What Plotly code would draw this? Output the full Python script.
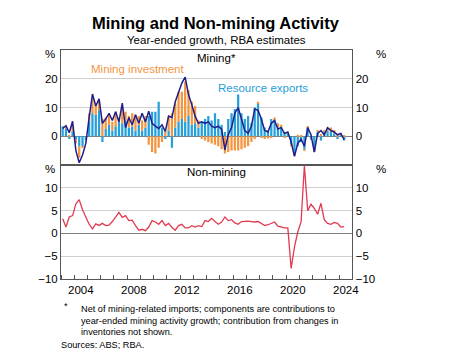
import pandas as pd
import plotly.graph_objects as go
from plotly.subplots import make_subplots

# ---------------- data (quarterly, year-ended growth, %) ----------------
quarters = pd.period_range("2003Q1", "2024Q2", freq="Q")

mining_total = [
    2.7, 3.7, 1.2, 5.2,      # 2003
    -5.0, -9.2, -6.5, -2.5,  # 2004
    6.5, 14.7, 10.5, 13.0,   # 2005
    4.5, 6.0, 8.0, 5.5,      # 2006
    8.5, 5.0, 11.5, 3.0,     # 2007
    6.5, 4.0, 7.5, 4.5,      # 2008
    8.0, 5.0, 8.7, 4.5,      # 2009
    3.5, 2.7, 4.0, 1.7,      # 2010
    7.0, 6.5, 12.0, 15.5,    # 2011
    18.5, 20.6, 14.5, 11.0,  # 2012
    7.0, 4.5, 5.0, 4.5,      # 2013
    5.0, 3.5, 3.0, 3.5,      # 2014
    2.5, -4.7, 0.5, 3.0,     # 2015
    8.0, 10.0, 5.5, 2.0,     # 2016
    1.0, 3.5, 9.5, 9.0,      # 2017
    6.0, 2.0, 1.5, 4.5,      # 2018
    5.5, 2.5, 3.0, 1.0,      # 2019
    1.5, -2.0, -7.0, -2.5,   # 2020
    -1.0, -3.5, 3.0, 0.5,    # 2021
    -5.5, 1.0, 2.0, 0.5,     # 2022
    3.0, 2.0, 1.5, 0.5,      # 2023
    1.0, -1.2,               # 2024
]

resource_exports = [
    3.5, 2.5, -1.0, 1.5,
    -1.0, -3.5, -3.5, -1.5,
    5.0, 8.0, 7.5, 9.0,
    -2.0, 2.5, 4.0, 2.0,
    3.5, 5.0, 4.5, 5.5,
    3.0, 3.5, 2.0, 4.0,
    2.0, 3.0, 7.0, 8.5,
    8.5, 12.0, 3.0, -1.0,
    2.0, -4.0, 3.0, 5.0,
    6.0, 5.0, 7.0, 4.0,
    4.5, 3.0, 5.0, 6.0,
    7.0, 5.5, 8.0, 6.0,
    4.0, 1.5, 6.0, 8.0,
    9.5, 14.5, 8.0, 6.0,
    7.0, 4.5, 10.0, 11.5,
    6.5, 3.0, 2.0, 6.0,
    5.5, 3.0, 3.5, 1.5,
    1.0, -3.0, -6.0, -3.5,
    -2.0, -4.5, 3.0, -1.0,
    -5.0, 1.5, -1.5, 1.5,
    2.0, 1.5, 1.0, -1.0,
    0.5, -1.5,
]

mining_investment = [
    0.0, 1.0, 0.5, 2.5,
    -1.5, -4.0, -0.5, 0.0,
    3.0, 5.0, 3.5, 3.5,
    6.0, 4.0, 3.5, 3.0,
    5.0, 1.5, 5.0, 3.0,
    4.0, 4.5, 5.5, 3.0,
    3.5, 4.0, -3.0, -5.5,
    -6.0, -4.0, -2.0, 2.0,
    5.0, 8.0, 8.5, 10.5,
    9.5, 14.0, 9.0, 8.0,
    6.0, 2.5, -1.0, -1.5,
    -2.0, -2.5, -3.0, -3.5,
    -4.5, -6.0, -5.5, -5.0,
    -5.0, -5.0, -4.5, -4.0,
    -3.5, -2.0, -1.0, 0.5,
    -0.5, -1.0, -0.8, -0.5,
    1.0, 1.5, 0.5, -0.5,
    0.3, -0.5, -0.8, 0.5,
    0.3, -0.5, 0.5, -0.3,
    -0.5, 0.5, 0.8, 0.5,
    1.0, 1.5, 1.2, 0.5,
    0.3, 0.2,
]

non_mining = [
    3.2, 1.4, 3.6, 3.9,
    6.5, 7.4, 5.2, 3.5,
    2.0, 1.0, 2.1, 1.75,
    2.2, 1.7, 1.8, 2.6,
    3.7, 4.6, 3.5, 3.9,
    2.8, 2.9, 1.7, 0.7,
    0.9, 0.6, 1.4, 2.8,
    2.5, 2.0, 2.8, 1.7,
    2.2, 1.3, 0.7, 1.7,
    2.0, 1.2, 1.2, 1.7,
    1.4, 1.7, 1.5, 2.8,
    2.6, 3.3, 2.6, 2.0,
    2.5, 3.6, 2.8, 3.0,
    2.3, 2.0, 2.6, 2.7,
    2.7, 2.6, 2.5, 2.6,
    2.2, 1.7, 1.9, 2.2,
    2.5, 1.6, 1.4, 1.2,
    1.2, -7.7, -3.0, 0.3,
    2.5, 14.9, 5.0, 6.4,
    5.5, 4.2, 6.6, 3.0,
    2.2, 2.0, 2.4, 2.2,
    1.4, 1.5,
]

year_labels = ["2004", "2008", "2012", "2016", "2020", "2024"]
top_ticks = [0, 10, 20]
bottom_ticks = [-10, -5, 0, 5, 10]

# ---------------- styling ----------------
ORANGE = "#F3953F"
BLUE = "#26A0DA"
NAVY = "#1E1E8C"
RED = "#E23A50"
GRID = "#CFCFCF"
FRAME = "#555555"
FONT = "Liberation Sans, Arial, sans-serif"

x = [q.year + (q.quarter - 0.5) / 4 for q in quarters]
year_pos = [int(y) + 0.5 for y in year_labels]

fig = make_subplots(
    rows=2, cols=1, shared_xaxes=True, vertical_spacing=0,
    row_heights=[115, 114],
    specs=[[{"secondary_y": True}], [{"secondary_y": True}]],
)

fig.add_trace(go.Bar(x=x, y=resource_exports, marker=dict(color=BLUE, line_width=0),
                     width=0.17, name="Resource exports"), row=1, col=1)
fig.add_trace(go.Bar(x=x, y=mining_investment, marker=dict(color=ORANGE, line_width=0),
                     width=0.17, name="Mining investment"), row=1, col=1)
fig.add_trace(go.Scatter(x=x, y=mining_total, mode="lines",
                         line=dict(color=NAVY, width=1.5), name="Mining"), row=1, col=1)
fig.add_trace(go.Scatter(x=x, y=non_mining, mode="lines",
                         line=dict(color=RED, width=1.3), name="Non-mining"), row=2, col=1)
# invisible traces so right-hand axes are drawn
fig.add_trace(go.Scatter(x=[x[0]], y=[0], mode="markers", marker=dict(opacity=0),
                         hoverinfo="skip", showlegend=False), row=1, col=1, secondary_y=True)
fig.add_trace(go.Scatter(x=[x[0]], y=[0], mode="markers", marker=dict(opacity=0),
                         hoverinfo="skip", showlegend=False), row=2, col=1, secondary_y=True)

tickfont = dict(family=FONT, size=11.5, color="black")

fig.update_xaxes(range=[2003, 2025], showgrid=False, zeroline=False,
                 showline=True, mirror=True, linecolor=FRAME, linewidth=1)
fig.update_xaxes(showticklabels=False, ticks="", row=1, col=1)
fig.update_xaxes(tickmode="array", tickvals=year_pos, ticktext=year_labels,
                 ticks="", tickfont=tickfont,
                 minor=dict(ticks="inside", ticklen=4, tick0=2003, dtick=1,
                            tickcolor=FRAME, showgrid=False),
                 row=2, col=1)

common_y = dict(showline=True, linecolor=FRAME, linewidth=1, ticks="",
                tickfont=tickfont, zeroline=True, zerolinecolor="#808080",
                zerolinewidth=1, gridcolor=GRID, gridwidth=1)
fig.update_yaxes(range=[-10, 30], tickmode="array", tickvals=top_ticks,
                 row=1, col=1, secondary_y=False, **common_y)
fig.update_yaxes(range=[-10, 15], tickmode="array", tickvals=bottom_ticks,
                 row=2, col=1, secondary_y=False, **common_y)
fig.update_yaxes(range=[-10, 30], tickmode="array", tickvals=top_ticks, side="right",
                 showgrid=False, zeroline=False, showline=True, linecolor=FRAME,
                 ticks="", tickfont=tickfont, row=1, col=1, secondary_y=True)
fig.update_yaxes(range=[-10, 15], tickmode="array", tickvals=bottom_ticks, side="right",
                 showgrid=False, zeroline=False, showline=True, linecolor=FRAME,
                 ticks="", tickfont=tickfont, row=2, col=1, secondary_y=True)

# ---------------- geometry (page has an 8px body margin) ----------------
OFF = 8
WIN_W, WIN_H = 474, 355
W, H = WIN_W - OFF, WIN_H - OFF
PL, PR, PT, PB = 61, 371, 50, 279          # plot box in window pixels
L, T = PL - OFF, PT - OFF
R = W - (PR - OFF)
B = H - (PB - OFF)
PW, PH = PR - PL, PB - PT


def px(xp):
    return (xp - PL) / PW


def py(yp):
    return (PB - yp) / PH


def ann(text, xp, yp, size=11.5, color="black", xanchor="center", bold=False):
    if bold:
        text = "<b>" + text + "</b>"
    fig.add_annotation(text=text, x=px(xp), y=py(yp), xref="paper", yref="paper",
                       showarrow=False, xanchor=xanchor, yanchor="middle",
                       font=dict(family=FONT, size=size, color=color))


ann("Mining and Non-mining Activity", 216, 23, size=16.5, bold=True)
ann("Year-ended growth, RBA estimates", 216, 40, size=11.5)
ann("Mining*", 216, 57.5)
ann("Non-mining", 216, 172)
ann("Mining investment", 137.5, 69.3, color=ORANGE)
ann("Resource exports", 262.5, 88.3, color=BLUE)
ann("%", 57, 54, xanchor="right")
ann("%", 374, 54, xanchor="left")
ann("%", 57, 169, xanchor="right")
ann("%", 374, 169, xanchor="left")
ann("*", 62, 306, size=9.2, xanchor="left")
ann("Net of mining-related imports; components are contributions to", 79.3, 309.3, size=9.2, xanchor="left")
ann("year-ended mining activity growth; contribution from changes in", 79.3, 320.7, size=9.2, xanchor="left")
ann("inventories not shown.", 79.3, 331.7, size=9.2, xanchor="left")
ann("Sources: ABS; RBA.", 59.3, 345, size=9.2, xanchor="left")

fig.update_layout(
    width=W, height=H, autosize=False,
    margin=dict(l=L, r=R, t=T, b=B, pad=0),
    barmode="relative", showlegend=False,
    plot_bgcolor="white", paper_bgcolor="white",
    font=dict(family=FONT, color="black"),
)

fig.write_html("out.html")
